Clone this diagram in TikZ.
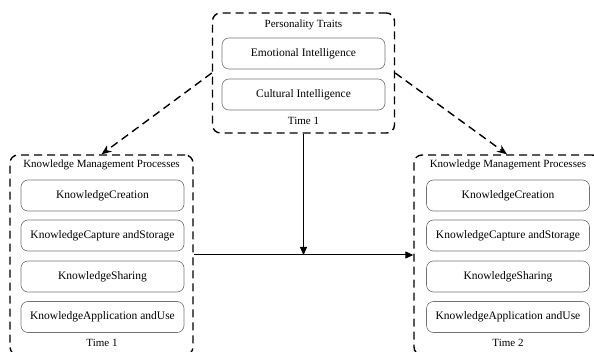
\documentclass[tikz,border=0pt]{standalone}
\usepackage{fontspec}
\setmainfont{Liberation Serif}
\usetikzlibrary{arrows.meta}
\begin{document}
\begin{tikzpicture}[x=1pt,y=-1pt,
  dashbox/.style={draw, line width=1.4pt, dash pattern=on 8pt off 5pt, rounded corners=8pt, inner sep=0pt},
  inbox/.style={draw=black!55, rounded corners=7pt, line width=0.6pt, minimum width=163pt, minimum height=31pt, inner sep=0pt, font=\fontsize{11.5}{13}\selectfont},
  lbl/.style={inner sep=0pt, font=\fontsize{11}{13}\selectfont},
  darrow/.style={line width=1.4pt, dash pattern=on 8pt off 5pt, -{Stealth[length=10pt,width=8pt]}},
  sarrow/.style={line width=1pt, -{Triangle[length=8pt,width=7pt]}}]
\useasboundingbox (0,0) rectangle (594,352);
\clip (0,0) rectangle (594,352);
% top box
\node[dashbox, minimum width=182pt, minimum height=120pt] (pt) at (303.5,73) {};
\node[lbl] (ptt) at (303.5,25) {Personality Traits};
\node[inbox] (emo) at (303.5,53.5) {Emotional Intelligence};
\node[inbox] (cul) at (303.5,94.5) {Cultural Intelligence};
\node[lbl] (t0) at (303.5,121) {Time 1};
% left box
\node[dashbox, minimum width=183pt, minimum height=200pt] (kl) at (101.5,255) {};
\node[lbl] (klt) at (101.5,165) {Knowledge Management Processes};
\node[inbox] (l1) at (102.5,195.5) {KnowledgeCreation};
\node[inbox] (l2) at (102.5,235.5) {KnowledgeCapture andStorage};
\node[inbox] (l3) at (102.5,276.5) {KnowledgeSharing};
\node[inbox] (l4) at (102.5,317) {KnowledgeApplication andUse};
\node[lbl] (t1) at (102,343) {Time 1};
% right box
\node[dashbox, minimum width=186pt, minimum height=200pt] (kr) at (507,255) {};
\node[lbl] (krt) at (508,165) {Knowledge Management Processes};
\node[inbox] (r1) at (508,195.5) {KnowledgeCreation};
\node[inbox] (r2) at (508,235.5) {KnowledgeCapture andStorage};
\node[inbox] (r3) at (508,276.5) {KnowledgeSharing};
\node[inbox] (r4) at (508,317) {KnowledgeApplication andUse};
\node[lbl] (t2) at (508,343) {Time 2};
% connectors
\coordinate (mid) at (pt.south |- kl.east);
\draw[darrow] (pt.west) -- (kl.north);
\draw[darrow] (pt.east) -- (kr.north);
\draw[sarrow] (pt.south) -- (mid);
\draw[sarrow] (kl.east) -- (kr.west);
\end{tikzpicture}
\end{document}
